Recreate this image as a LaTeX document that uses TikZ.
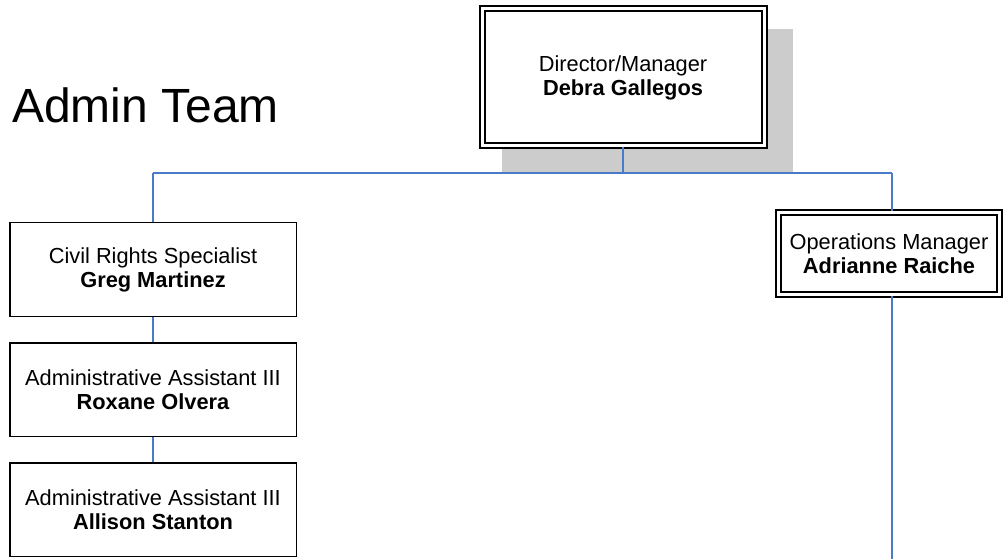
\documentclass[tikz,border=0pt]{standalone}
\usepackage{fontspec}
\setmainfont{Liberation Sans}
\definecolor{linkblue}{HTML}{4A7BC8}
\definecolor{shadowgray}{HTML}{CCCCCC}
\begin{document}
\begin{tikzpicture}[x=1pt,y=-1pt,
  every node/.style={font=\fontsize{21.8}{24}\selectfont, align=center, inner sep=0pt},
  plainbox/.style={draw=black, line width=1.5pt, fill=white, minimum width=286.5pt, minimum height=93.5pt},
  dblbox/.style={draw=black, line width=2pt, double=white, double distance=3pt, fill=white},
  link/.style={draw=linkblue, line width=1.6pt}]
\useasboundingbox (0,0) rectangle (1005,559);
% shadow
\fill[shadowgray] (502,29) rectangle (793,173);
% title
\node[anchor=base west, font=\fontsize{48}{56}\selectfont] (title) at (12,123) {Admin Team};
% bus coordinates
\coordinate (busL) at (153,173);
\coordinate (busM) at (623,173);
\coordinate (busR) at (892,173);
\coordinate (opsEnd) at (892,559);
% connectors (drawn first, boxes on top)
\draw[link] (busL) -- (busR);
% boxes
\node[dblbox, minimum width=282pt, minimum height=137pt] (dir) at (623,77.5) {Director/Manager\\\textbf{Debra Gallegos}};
\node[dblbox, minimum width=221pt, minimum height=82pt] (ops) at (889,253.5) {Operations Manager\\\textbf{Adrianne Raiche}};
\node[plainbox] (civ) at (153,269.5) {Civil Rights Specialist\\\textbf{Greg Martinez}};
\node[plainbox] (rox) at (153,389.5) {Administrative Assistant III\\\textbf{Roxane Olvera}};
\node[plainbox] (all) at (153,509.5) {Administrative Assistant III\\\textbf{Allison Stanton}};
% links
\draw[link] (dir.south) -- (busM);
\draw[link] (busL) -- (civ.north);
\draw[link] (busR) -- (busR |- ops.north);
\draw[link] (busR |- ops.south) -- (opsEnd);
\draw[link] (civ.south) -- (rox.north);
\draw[link] (rox.south) -- (all.north);
\end{tikzpicture}
\end{document}
